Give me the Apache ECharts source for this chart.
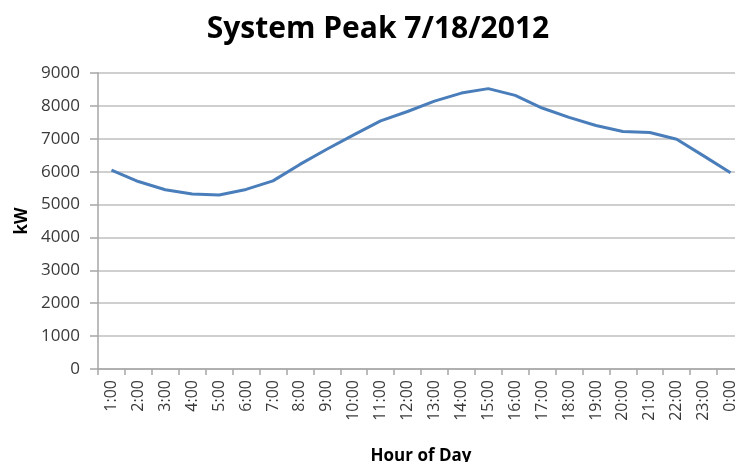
<!DOCTYPE html>
<html>
<head>
<meta charset="utf-8">
<script src="https://cdn.jsdelivr.net/npm/echarts@6/dist/echarts.min.js"></script>
<style>
html,body{margin:0;padding:0;background:#fff;}
#chart{width:735px;height:462px;}
</style>
</head>
<body>
<div id="chart"></div>
<script>
var titleText = 'System Peak 7/18/2012';
var xAxisTitle = 'Hour of Day';
var yAxisTitle = 'kW';
var hours = ['1:00','2:00','3:00','4:00','5:00','6:00','7:00','8:00','9:00','10:00','11:00','12:00',
             '13:00','14:00','15:00','16:00','17:00','18:00','19:00','20:00','21:00','22:00','23:00','0:00'];
var peakKW = [6050, 5700, 5450, 5320, 5290, 5460, 5720, 6220, 6680, 7120, 7545, 7830,
              8145, 8390, 8525, 8320, 7935, 7650, 7405, 7220, 7190, 6985, 6480, 5965];
var yMin = 0, yMax = 9000, yStep = 1000;

var chart = echarts.init(document.getElementById('chart'), null, {renderer: 'canvas'});
chart.setOption({
  animation: false,
  backgroundColor: '#ffffff',
  title: {
    text: titleText,
    left: 373,
    top: 9,
    textAlign: 'center',
    textStyle: {fontFamily: 'Open Sans', fontWeight: 'bold', fontSize: 30, color: '#000000'}
  },
  grid: {left: 98, right: -9, top: 73, bottom: 93, containLabel: false, outerBoundsMode: 'none'},
  xAxis: {
    type: 'category',
    data: hours,
    boundaryGap: true,
    name: xAxisTitle,
    nameLocation: 'middle',
    nameGap: 79,
    nameTextStyle: {fontFamily: 'Open Sans', fontWeight: 'bold', fontSize: 17, color: '#000000'},
    axisLine: {show: true, lineStyle: {color: '#a6a6a6', width: 1.5}},
    axisTick: {show: true, inside: false, length: 6, alignWithLabel: false, lineStyle: {color: '#a6a6a6', width: 1.5}},
    axisLabel: {rotate: 90, margin: 11, interval: 0, fontFamily: 'Open Sans', fontSize: 16, color: '#3a3a3a'},
    splitLine: {show: false}
  },
  yAxis: {
    type: 'value',
    min: yMin,
    max: yMax,
    interval: yStep,
    name: yAxisTitle,
    nameLocation: 'middle',
    nameGap: 65,
    nameTextStyle: {fontFamily: 'Open Sans', fontWeight: 'bold', fontSize: 17, color: '#000000'},
    axisLine: {show: true, lineStyle: {color: '#a6a6a6', width: 1.5}},
    axisTick: {show: true, inside: false, length: 8, lineStyle: {color: '#a6a6a6', width: 1.5}},
    axisLabel: {margin: 18, fontFamily: 'Open Sans', fontSize: 17, color: '#3a3a3a',
                formatter: function (v) { return String(v); }},
    splitLine: {show: true, lineStyle: {color: '#bfbfbf', width: 1.5}}
  },
  series: [{
    type: 'line',
    data: peakKW,
    smooth: false,
    showSymbol: false,
    symbol: 'none',
    lineStyle: {color: '#4a7ebb', width: 3},
    itemStyle: {color: '#4a7ebb'}
  }]
});
</script>
</body>
</html>
